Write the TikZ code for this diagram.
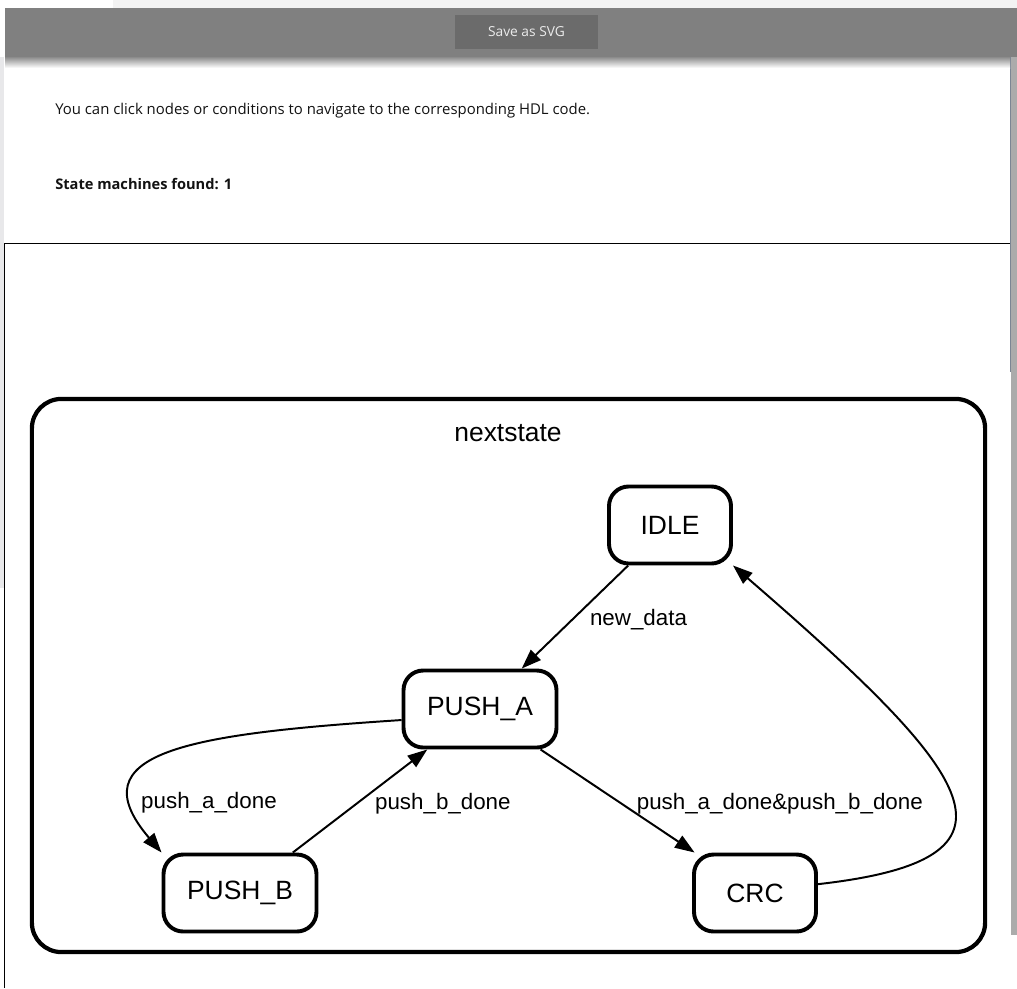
\documentclass[tikz,border=0pt]{standalone}
\usepackage{fontspec}
\setmainfont{Liberation Sans}
\newfontfamily\uifont{Open Sans}
\usetikzlibrary{arrows.meta}
\definecolor{barGray}{HTML}{808080}
\definecolor{btnGray}{HTML}{6B6B6B}
\definecolor{paleGray}{HTML}{F3F3F3}
\definecolor{stripGray}{HTML}{E8E8EA}
\definecolor{scrollGray}{HTML}{ABABAB}
\definecolor{scrollEdge}{HTML}{7B8593}
\begin{document}
\begin{tikzpicture}[x=0.025cm,y=-0.025cm,
    state/.style={draw,line width=2.8pt,rounded corners=14pt,minimum
        width=3.05cm,minimum height=1.925cm,inner xsep=0.59cm,inner ysep=0pt,
        font=\fontsize{18.8}{22}\selectfont},
    cond/.style={right=10pt,inner sep=0pt,font=\fontsize{15.9}{19}\selectfont},
    trans/.style={line width=1.4pt,-{Triangle[length=14pt,width=10pt]}},
    uitext/.style={anchor=west,inner sep=0pt,text=black!93,
        font=\uifont\fontsize{10.6}{12}\selectfont}]

    \useasboundingbox (0,0) rectangle (1017,988);

    % the page around the graph

    \fill[paleGray] (113,0) rectangle (1017,8);
    \fill[stripGray] (0,57) rectangle (4,588);
    \fill[scrollGray] (1011,57) rectangle (1017,935);
    \draw[scrollEdge,line width=0.7pt] (1010.5,57) -- (1010.5,372);
    \shade[top color=black!45,bottom color=white] (5,57) rectangle (1010,68);
    \fill[barGray] (5,8) rectangle (1017,57);
    \node[fill=btnGray,minimum width=3.575cm,minimum height=0.85cm,inner sep=0pt,
        text=white!92!black,font=\uifont\fontsize{9.8}{11}\selectfont]
        (save) at (526.5,32) {Save as SVG};

    \node[uitext] (hint) at (55,111) {You can click nodes or conditions to
        navigate to the corresponding HDL code.};
    \node[uitext,font=\uifont\bfseries\fontsize{10.4}{12}\selectfont] (found)
        at (55,184) {State machines found: 1};

    \draw[line width=0.7pt] (5,243) -- (1010,243);
    \draw[line width=0.7pt] (4.5,243) -- (4.5,988);

    % the state machine

    \node[draw,line width=3pt,rounded corners=21pt,minimum width=23.825cm,
        minimum height=13.825cm] (fsm) at (508.5,675.5) {};
    \node[font=\fontsize{18.8}{22}\selectfont] (title) at (508,433) {nextstate};

    \node[state] (idle) at (670,525) {IDLE};
    \node[state] (pa) at (480,709) {PUSH\_A};
    \node[state] (pb) at (240,893) {PUSH\_B};
    \node[state] (crc) at (755,893) {CRC};

    \draw[trans] (idle) -- node[cond,yshift=-2pt]{new\_data} (pa);
    \draw[trans] (pb) -- node[cond,yshift=-2pt]{push\_b\_done} (pa);
    \draw[trans] (pa) -- node[cond,right=3pt,yshift=-2pt]{push\_a\_done\&push\_b\_done} (crc);
    \draw[trans] (pa.188) .. controls +(-215,14) and +(-85,-100) ..
    node[cond,pos=0.8,right=-5pt,yshift=-1pt]{push\_a\_done} (pb.north west);
    \draw[trans] (crc.8) .. controls +(222,-25) and +(245,212) .. (idle.south east);
  \end{tikzpicture}
\end{document}
